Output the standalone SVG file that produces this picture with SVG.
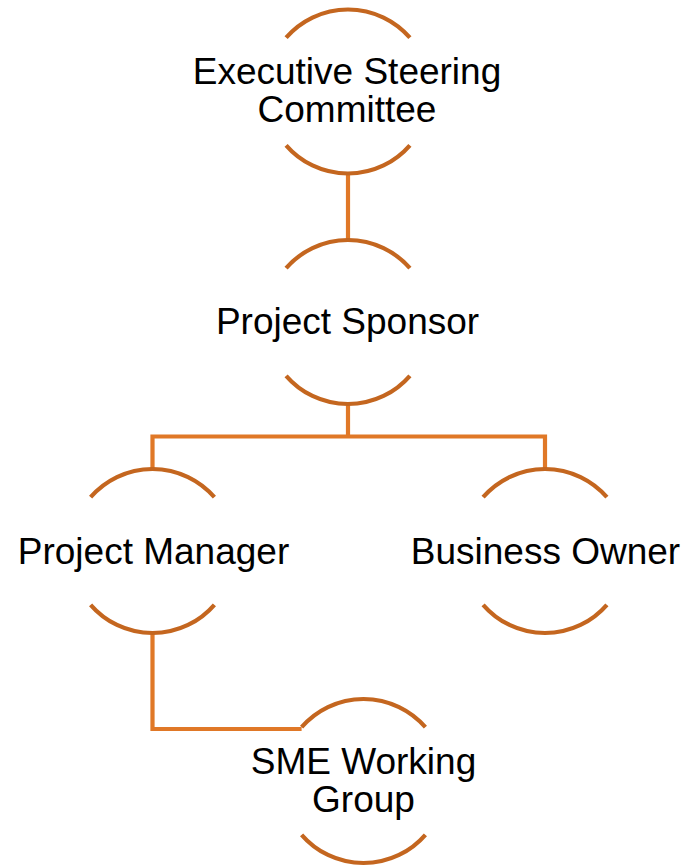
<svg xmlns="http://www.w3.org/2000/svg" width="685" height="866" viewBox="0 0 685 866">
<style>
.arc{fill:none;stroke:#C4661F;stroke-width:4.2}
.conn{fill:none;stroke:#E07827;stroke-width:4.2;stroke-linejoin:miter}
.lbl{font-family:"Liberation Sans",Arial,sans-serif;font-size:37px;fill:#000;text-anchor:middle}
</style>
<rect width="685" height="866" fill="#fff"/>
<g id="connectors">
<path class="conn" d="M348 173.5V240"/>
<path class="conn" d="M348 404V436.5M152.5 469V436.5H545V469"/>
<path class="conn" d="M152.5 633V729H301.6"/>
</g>
<g id="node-executive">
<path class="arc" d="M286.1 37.7A82 82 0 0 1 409.9 37.7"/>
<path class="arc" d="M286.1 145.3A82 82 0 0 0 409.9 145.3"/>
<text class="lbl" x="347" y="84">Executive Steering</text>
<text class="lbl" x="347" y="122">Committee</text>
</g>
<g id="node-sponsor">
<path class="arc" d="M286.1 268.2A82 82 0 0 1 409.9 268.2"/>
<path class="arc" d="M286.1 375.8A82 82 0 0 0 409.9 375.8"/>
<text class="lbl" x="347.5" y="334">Project Sponsor</text>
</g>
<g id="node-manager">
<path class="arc" d="M90.6 497.2A82 82 0 0 1 214.4 497.2"/>
<path class="arc" d="M90.6 604.8A82 82 0 0 0 214.4 604.8"/>
<text class="lbl" x="153.5" y="564">Project Manager</text>
</g>
<g id="node-owner">
<path class="arc" d="M483.1 497.2A82 82 0 0 1 606.9 497.2"/>
<path class="arc" d="M483.1 604.8A82 82 0 0 0 606.9 604.8"/>
<text class="lbl" x="545.5" y="564">Business Owner</text>
</g>
<g id="node-sme">
<path class="arc" d="M301.6 727.2A82 82 0 0 1 425.4 727.2"/>
<path class="arc" d="M301.6 834.8A82 82 0 0 0 425.4 834.8"/>
<text class="lbl" x="363.5" y="774">SME Working</text>
<text class="lbl" x="363.5" y="812">Group</text>
</g>
</svg>
